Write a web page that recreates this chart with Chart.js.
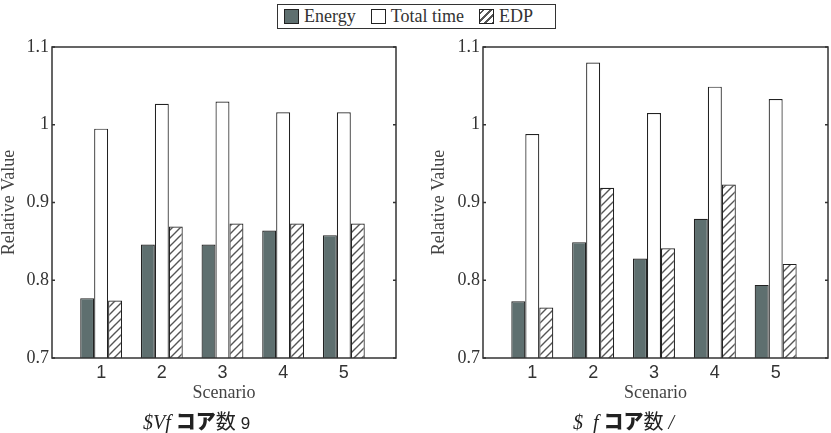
<!DOCTYPE html>
<html>
<head>
<meta charset="utf-8">
<script src="https://cdn.jsdelivr.net/npm/chart.js@4"></script>
<style>
  html, body { margin: 0; padding: 0; background: #fff; }
  body { width: 831px; height: 433px; position: relative; overflow: hidden; font-family: "Liberation Serif", serif; color: #333; }
  .wrap { position: absolute; top: 0; height: 433px; }
  #legend { position: absolute; left: 277px; top: 4px; width: 277px; height: 23px; border: 1px solid #333;
            display: flex; align-items: center; font-size: 18px; box-sizing: content-box; }
  .item { display: flex; align-items: center; margin-left: 6px; margin-right: 9px; }
  .sw { width: 13px; height: 13px; border: 1px solid #222; margin-right: 5px; }
  .cap { position: absolute; top: 406px; font-size: 20px; white-space: nowrap; color: #222; }
  .cap .it { font-family: "Liberation Serif", serif; font-style: italic; }
  .cap .jp { font-family: "Noto Sans CJK JP", sans-serif; font-weight: 900; }
  .cap .jn { font-family: "Noto Sans CJK JP", sans-serif; }
  .cap .sa { font-family: "Liberation Sans", sans-serif; font-size: 17px; }
</style>
</head>
<body>
<div id="legend">
  <div class="item"><div class="sw" style="background:#5e6f6f"></div>Energy</div>
  <div class="item"><div class="sw" style="background:#fff"></div>Total time</div>
  <div class="item"><div class="sw" style="background:repeating-linear-gradient(135deg,#fff 0 2px,#555 2px 3.5px,#fff 3.5px 5px)"></div>EDP</div>
</div>
<div class="wrap" style="left:0;width:415px"><canvas id="chartA"></canvas></div>
<div class="wrap" style="left:415px;width:416px"><canvas id="chartB"></canvas></div>
<div class="cap" style="left:143px"><span class="it">$Vf</span> <span class="jp">コア</span><span class="jn">数</span> <span class="sa">9</span></div>
<div class="cap" style="left:573px"><span class="it">$ &nbsp;f</span> <span class="jp">コア</span><span class="jn">数</span> <span class="it">/</span></div>
<script>
// データ
const scenarios = [1, 2, 3, 4, 5];
const yTicks = [0.7, 0.8, 0.9, 1, 1.1];
const seriesNames = ['Energy', 'Total time', 'EDP'];

const energyA = [0.777, 0.846, 0.846, 0.864, 0.858];
const totalA  = [0.995, 1.027, 1.030, 1.016, 1.016];
const edpA    = [0.774, 0.869, 0.873, 0.873, 0.873];

const energyB = [0.773, 0.849, 0.828, 0.879, 0.794];
const totalB  = [0.988, 1.080, 1.015, 1.049, 1.033];
const edpB    = [0.765, 0.919, 0.841, 0.923, 0.821];

// 斜線パターン
const makeHatch = () => {
    const n = 8;
    const c = document.createElement('canvas');
    c.width = n; c.height = n;
    const g = c.getContext('2d');
    g.fillStyle = '#fff';
    g.fillRect(0, 0, n, n);
    g.strokeStyle = '#555';
    g.lineWidth = 1.4;
    g.beginPath();
    g.moveTo(-1, n + 1); g.lineTo(n + 1, -1);
    g.moveTo(-n / 2, n / 2); g.lineTo(n / 2, -n / 2);
    g.moveTo(n / 2, n * 1.5); g.lineTo(n * 1.5, n / 2);
    g.stroke();
    return g.createPattern(c, 'repeat');
};
const hatch = makeHatch();

// 枠と内向きの目盛り
const framePlugin = {
    id: 'frame',
    afterDatasetsDraw(chart) {
        const { ctx, chartArea: a, scales } = chart;
        ctx.save();
        ctx.strokeStyle = '#333';
        ctx.lineWidth = 1.5;
        ctx.strokeRect(a.left, a.top, a.right - a.left, a.bottom - a.top);
        ctx.beginPath();
        yTicks.forEach(v => {
            const y = scales.y.getPixelForValue(v);
            ctx.moveTo(a.left, y); ctx.lineTo(a.left + 3, y);
            ctx.moveTo(a.right, y); ctx.lineTo(a.right - 3, y);
        });
        ctx.stroke();
        ctx.restore();
    }
};

const toPoints = arr => arr.map((v, i) => ({ x: scenarios[i], y: v }));

const makeChart = (id, energy, total, edp, yWidth, titlePad, padRight) => {
    const fills = ['#5e6f6f', '#ffffff', hatch];
    return new Chart(document.getElementById(id), {
        type: 'bar',
        data: {
            datasets: [energy, total, edp].map((d, i) => ({
                label: seriesNames[i],
                data: toPoints(d),
                backgroundColor: fills[i],
                borderColor: '#222',
                borderWidth: 1.2,
                borderSkipped: 'start',
                base: 0.7,
                categoryPercentage: 0.69,
                barPercentage: 1
            }))
        },
        options: {
            responsive: true,
            maintainAspectRatio: false,
            animation: false,
            layout: { padding: { top: 47, bottom: 30, left: 0, right: padRight } },
            plugins: { legend: { display: false }, tooltip: { enabled: false } },
            scales: {
                x: {
                    type: 'linear',
                    offset: false,
                    min: 0.19,
                    max: 5.86,
                    grid: { display: false, drawTicks: false, offset: false },
                    border: { display: false },
                    afterBuildTicks: s => { s.ticks = scenarios.map(v => ({ value: v })); },
                    afterFit: s => { s.height = 45; },
                    ticks: {
                        padding: 4,
                        color: '#333',
                        font: { family: '"Liberation Sans", sans-serif', size: 18 },
                        callback: v => String(v)
                    },
                    title: {
                        display: true,
                        text: 'Scenario',
                        color: '#444',
                        padding: { top: 0, bottom: -1 },
                        font: { family: '"Liberation Serif", serif', size: 18 }
                    }
                },
                y: {
                    min: 0.7,
                    max: 1.1,
                    grid: { display: false, drawTicks: false },
                    border: { display: false },
                    afterBuildTicks: s => { s.ticks = yTicks.map(v => ({ value: v })); },
                    afterFit: s => { s.width = yWidth; },
                    ticks: {
                        padding: 3,
                        color: '#333',
                        font: { family: '"Liberation Serif", serif', size: 18 },
                        callback: v => String(Number(v.toFixed(1)))
                    },
                    title: {
                        display: true,
                        text: 'Relative Value',
                        color: '#444',
                        padding: { top: titlePad, bottom: 0 },
                        font: { family: '"Liberation Serif", serif', size: 18 }
                    }
                }
            }
        },
        plugins: [framePlugin]
    });
};

makeChart('chartA', energyA, totalA, edpA, 52, -2, 19);
makeChart('chartB', energyB, totalB, edpB, 68, 13, 3);
</script>
</body>
</html>
